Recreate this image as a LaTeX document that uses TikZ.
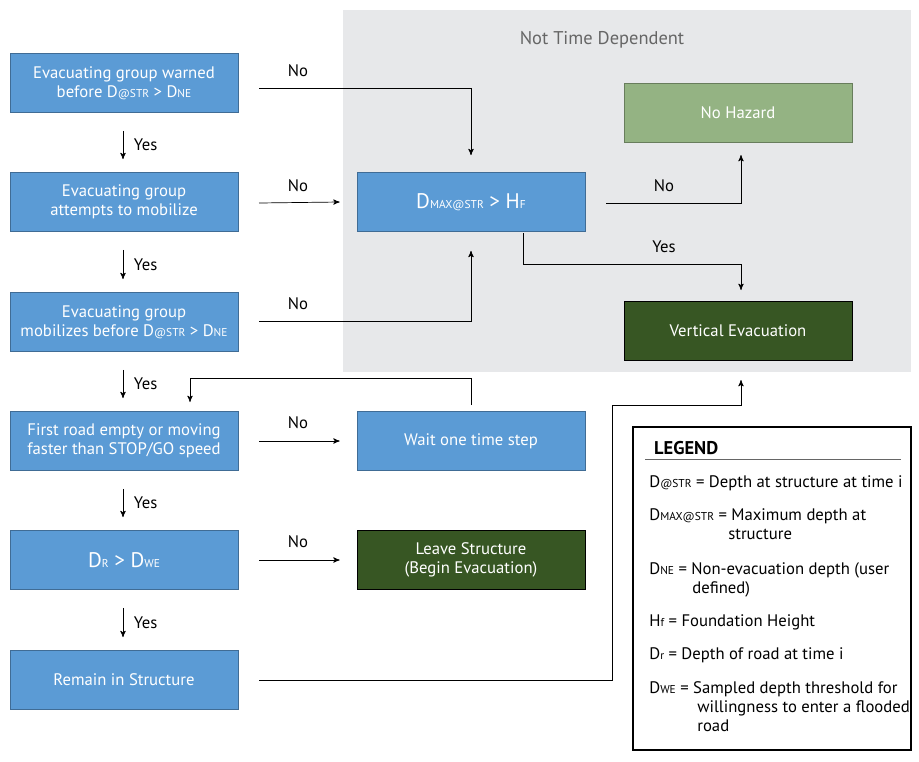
\documentclass[tikz,border=0pt]{standalone}
\usepackage{fontspec}
\setmainfont{PT Sans}
\usetikzlibrary{arrows,positioning}
\definecolor{boxblue}{HTML}{5B9BD5}
\definecolor{lightgreen}{HTML}{94B383}
\definecolor{darkgreen}{HTML}{375623}
\definecolor{bggray}{HTML}{E7E8EA}
\newcommand{\lowtxt}[1]{{\fontsize{6.5}{7}\selectfont #1}}
\begin{document}
\begin{tikzpicture}[x=0.02cm,y=-0.02cm,font=\fontsize{9.5}{11}\selectfont]
\tikzstyle{stepbox}=[draw=boxblue!70!black,fill=boxblue,text=white,
minimum width=4.56cm,minimum height=1.18cm,inner sep=2pt,align=center]
\tikzstyle{hazbox}=[stepbox,fill=lightgreen,draw=lightgreen!70!black]
\tikzstyle{evacbox}=[stepbox,fill=darkgreen,draw=black]
\tikzstyle{flow}=[->,>=stealth',thin]
\tikzstyle{lbl}=[inner sep=0pt]
\useasboundingbox (0,0) rectangle (919,761);
\fill[bggray] (343,10) rectangle (911,372);
\node (ntd) at (602,40) {\fontsize{10.5}{12}\selectfont\color{black!60}Not Time Dependent};

\node[stepbox] (warn) at (124,83) {Evacuating group warned\\before D\lowtxt{@STR} > D\lowtxt{NE}};
\node[stepbox] (att) at (124,202) {Evacuating group\\attempts to mobilize};
\node[stepbox] (mob) at (124,322) {Evacuating group\\mobilizes before D\lowtxt{@STR} > D\lowtxt{NE}};
\node[stepbox] (road) at (124,441) {First road empty or moving\\faster than STOP/GO speed};
\node[stepbox] (dr) at (124,560) {\fontsize{12}{14}\selectfont D\lowtxt{R} > D\lowtxt{WE}};
\node[stepbox] (remain) at (124,680) {Remain in Structure};

\node[stepbox] (dmax) at (471,202) {\fontsize{12}{14}\selectfont D\lowtxt{MAX@STR} > H\lowtxt{F}};
\node[stepbox] (wait) at (471,441) {Wait one time step};
\node[evacbox] (leave) at (471,560) {Leave Structure\\(Begin Evacuation)};
\node[hazbox] (nohaz) at (738,113) {No Hazard};
\node[evacbox] (vert) at (738,331) {Vertical Evacuation};

% yes arrows
\foreach \a/\b in {warn/att,att/mob,mob/road,road/dr,dr/remain}{
\draw[flow] ([xshift=-0.02cm,yshift=-0.36cm]\a.south) -- ([xshift=-0.02cm,yshift=0.26cm]\b.north)
node[lbl,right=6pt,pos=0.5] {Yes};
}
% no arrows
\coordinate (c1) at (259,88);
\draw[flow] (c1) -- (471,88) -- ([yshift=0.34cm]dmax.north);
\node (n1) at (298,71) {No};
\coordinate (c2) at (259,203);
\draw[flow] (c2) -- ([xshift=-0.34cm]dmax.west);
\node (n2) at (298,186) {No};
\coordinate (c3) at (259,321);
\draw[flow] (c3) -- (471,321) -- ([yshift=-0.38cm]dmax.south);
\node (n3) at (298,304) {No};
\coordinate (c4) at (259,441);
\draw[flow] (c4) -- ([xshift=-0.34cm]wait.west);
\node (n4) at (298,423) {No};
\coordinate (c5) at (259,560);
\draw[flow] (c5) -- ([xshift=-0.34cm]leave.west);
\node (n5) at (298,542) {No};
\coordinate (c6) at (606,203);
\draw[flow] (c6) -- (741,203) -- (741,155);
\node (n6) at (664,186) {No};
\coordinate (c7) at (523,233);
\draw[flow] (c7) -- (523,264) -- (741,264) -- (741,290);
\node (y7) at (664,247) {Yes};
\coordinate (c8) at (471,405);
\draw[flow] (c8) -- (471,378) -- (190,378) -- (190,402);
\coordinate (c9) at (259,680);
\draw[flow] (c9) -- (612,680) -- (612,405) -- (741,405) -- (741,380);

% legend
\draw[thick] (633,427) rectangle (911,750);
\node[anchor=west,font=\fontsize{10.5}{12}\selectfont\bfseries] (leg) at (648,448) {LEGEND};
\draw[black!60] (645,459) -- (901,459);
\node[anchor=north west,align=left,inner sep=0pt] (l1) at (649,475) {D\lowtxt{@STR} = Depth at structure at time i};
\node[anchor=north west,align=left,inner sep=0pt] (l2) at (649,508) {D\lowtxt{MAX@STR} = Maximum depth at\\\hspace{1.58cm}structure};
\node[anchor=north west,align=left,inner sep=0pt] (l3) at (649,562) {D\lowtxt{NE} = Non-evacuation depth (user\\\hspace{0.86cm}defined)};
\node[anchor=north west,align=left,inner sep=0pt] (l4) at (649,614) {H\lowtxt{f} = Foundation Height};
\node[anchor=north west,align=left,inner sep=0pt] (l5) at (649,647) {D\lowtxt{r} = Depth of road at time i};
\node[anchor=north west,align=left,inner sep=0pt] (l6) at (649,681) {D\lowtxt{WE} = Sampled depth threshold for\\\hspace{0.96cm}willingness to enter a flooded\\\hspace{0.96cm}road};
\end{tikzpicture}
\end{document}
